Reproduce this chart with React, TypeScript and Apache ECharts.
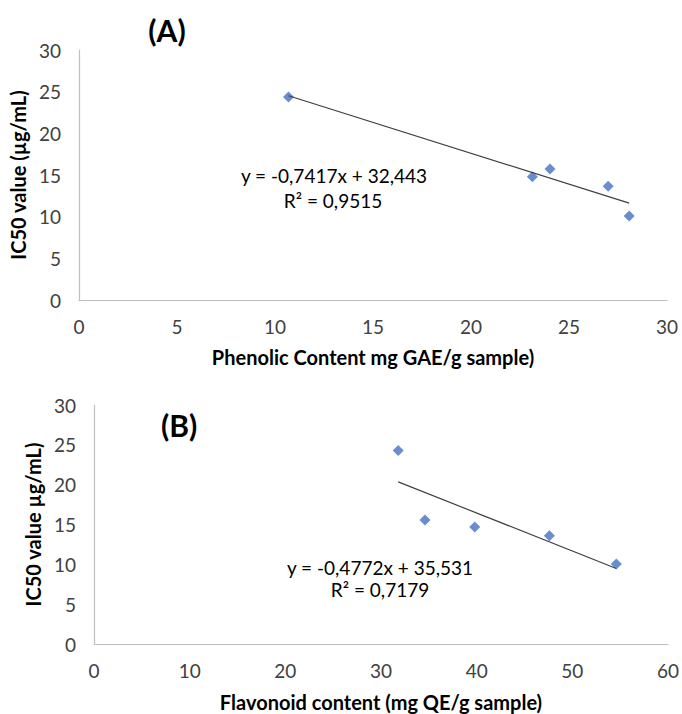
import React, { useEffect, useRef } from "react";
import * as echarts from "echarts";

// Panel A: phenolic content vs IC50
const phenolicX = [10.69, 23.13, 24.03, 27.0, 28.07];
const phenolicIC50 = [24.36, 14.8, 15.72, 13.64, 10.08];
const phenolicSlope = -0.7417;
const phenolicIntercept = 32.443;
const phenolicEq = "y = -0,7417x + 32,443";
const phenolicR2 = "R² = 0,9515";

// Panel B: flavonoid content vs IC50
const flavonoidX = [31.8, 34.6, 39.8, 47.6, 54.6];
const flavonoidIC50 = [24.3, 15.56, 14.7, 13.6, 10.04];
const flavonoidSlope = -0.4772;
const flavonoidIntercept = 35.531;
const flavonoidEq = "y = -0,4772x + 35,531";
const flavonoidR2 = "R² = 0,7179";

const yTicks = [0, 5, 10, 15, 20, 25, 30];

const FONT = "Lato";
const LABEL_COLOR = "#404040";
const AXIS_COLOR = "#bfbfbf";
const MARKER_COLOR = "#4472C4";

function trend(xs: number[], slope: number, intercept: number) {
  const lo = Math.min(...xs);
  const hi = Math.max(...xs);
  return [
    [lo, slope * lo + intercept],
    [hi, slope * hi + intercept],
  ];
}

export default function App() {
  const ref = useRef<HTMLDivElement>(null);
  useEffect(() => {
    document.body.style.margin = "0";
    if (!ref.current) return;
    const chart = echarts.init(ref.current, undefined, { renderer: "svg" });
    const axisLabel = { color: LABEL_COLOR, fontFamily: FONT, fontSize: 19, margin: 17 };
    const nameStyle = { color: "#000", fontFamily: FONT, fontSize: 20, fontWeight: "bold" as const };
    const xAxisBase = {
      type: "value" as const,
      axisLine: { show: true, lineStyle: { color: AXIS_COLOR, width: 1.2 } },
      axisTick: { show: false },
      splitLine: { show: false },
      axisLabel,
      nameLocation: "middle" as const,
      nameTextStyle: nameStyle,
    };
    const yAxisBase = {
      type: "value" as const,
      min: yTicks[0],
      max: yTicks[yTicks.length - 1],
      interval: 5,
      axisLine: { show: true, lineStyle: { color: AXIS_COLOR, width: 1.2 } },
      axisTick: { show: false },
      splitLine: { show: false },
      axisLabel: { ...axisLabel, margin: 18 },
      nameLocation: "middle" as const,
      nameRotate: 90,
      nameTextStyle: nameStyle,
    };
    const eqStyle = { fill: "#000", font: `19px ${FONT}`, textAlign: "center" as const, textVerticalAlign: "middle" as const };
    chart.setOption({
      animation: false,
      grid: [
        { left: 79, right: 15, top: 50, bottom: 414 },
        { left: 94, right: 11, top: 405, bottom: 70 },
      ],
      xAxis: [
        { ...xAxisBase, gridIndex: 0, min: 0, max: 30, interval: 5, name: "Phenolic Content mg GAE/g sample)", nameGap: 47 },
        { ...xAxisBase, gridIndex: 1, min: 0, max: 60, interval: 10, name: "Flavonoid content (mg QE/g sample)", nameGap: 48 },
      ],
      yAxis: [
        { ...yAxisBase, gridIndex: 0, name: "IC50 value (µg/mL)", nameGap: 46 },
        { ...yAxisBase, gridIndex: 1, name: "IC50 value µg/mL)", nameGap: 46 },
      ],
      series: [
        {
          type: "line",
          xAxisIndex: 0,
          yAxisIndex: 0,
          data: trend(phenolicX, phenolicSlope, phenolicIntercept),
          showSymbol: false,
          symbol: "none",
          lineStyle: { color: "#404040", width: 1.2 },
          silent: true,
        },
        {
          type: "scatter",
          xAxisIndex: 0,
          yAxisIndex: 0,
          data: phenolicX.map((x, i) => [x, phenolicIC50[i]]),
          symbol: "diamond",
          symbolSize: 11,
          itemStyle: { color: MARKER_COLOR },
        },
        {
          type: "line",
          xAxisIndex: 1,
          yAxisIndex: 1,
          data: trend(flavonoidX, flavonoidSlope, flavonoidIntercept),
          showSymbol: false,
          symbol: "none",
          lineStyle: { color: "#404040", width: 1.2 },
          silent: true,
        },
        {
          type: "scatter",
          xAxisIndex: 1,
          yAxisIndex: 1,
          data: flavonoidX.map((x, i) => [x, flavonoidIC50[i]]),
          symbol: "diamond",
          symbolSize: 11,
          itemStyle: { color: MARKER_COLOR },
        },
      ],
      graphic: [
        { type: "text", x: 167, y: 30, style: { text: "(A)", fill: "#000", font: `bold 30px ${FONT}`, textAlign: "center", textVerticalAlign: "middle" } },
        { type: "text", x: 179, y: 425, style: { text: "(B)", fill: "#000", font: `bold 30px ${FONT}`, textAlign: "center", textVerticalAlign: "middle" } },
        { type: "text", x: 334, y: 175, style: { ...eqStyle, text: phenolicEq } },
        { type: "text", x: 333, y: 200, style: { ...eqStyle, text: phenolicR2 } },
        { type: "text", x: 380, y: 567, style: { ...eqStyle, text: flavonoidEq } },
        { type: "text", x: 380, y: 589, style: { ...eqStyle, text: flavonoidR2 } },
      ],
    });
    return () => chart.dispose();
  }, []);
  return <div ref={ref} style={{ width: 682, height: 714 }} />;
}
